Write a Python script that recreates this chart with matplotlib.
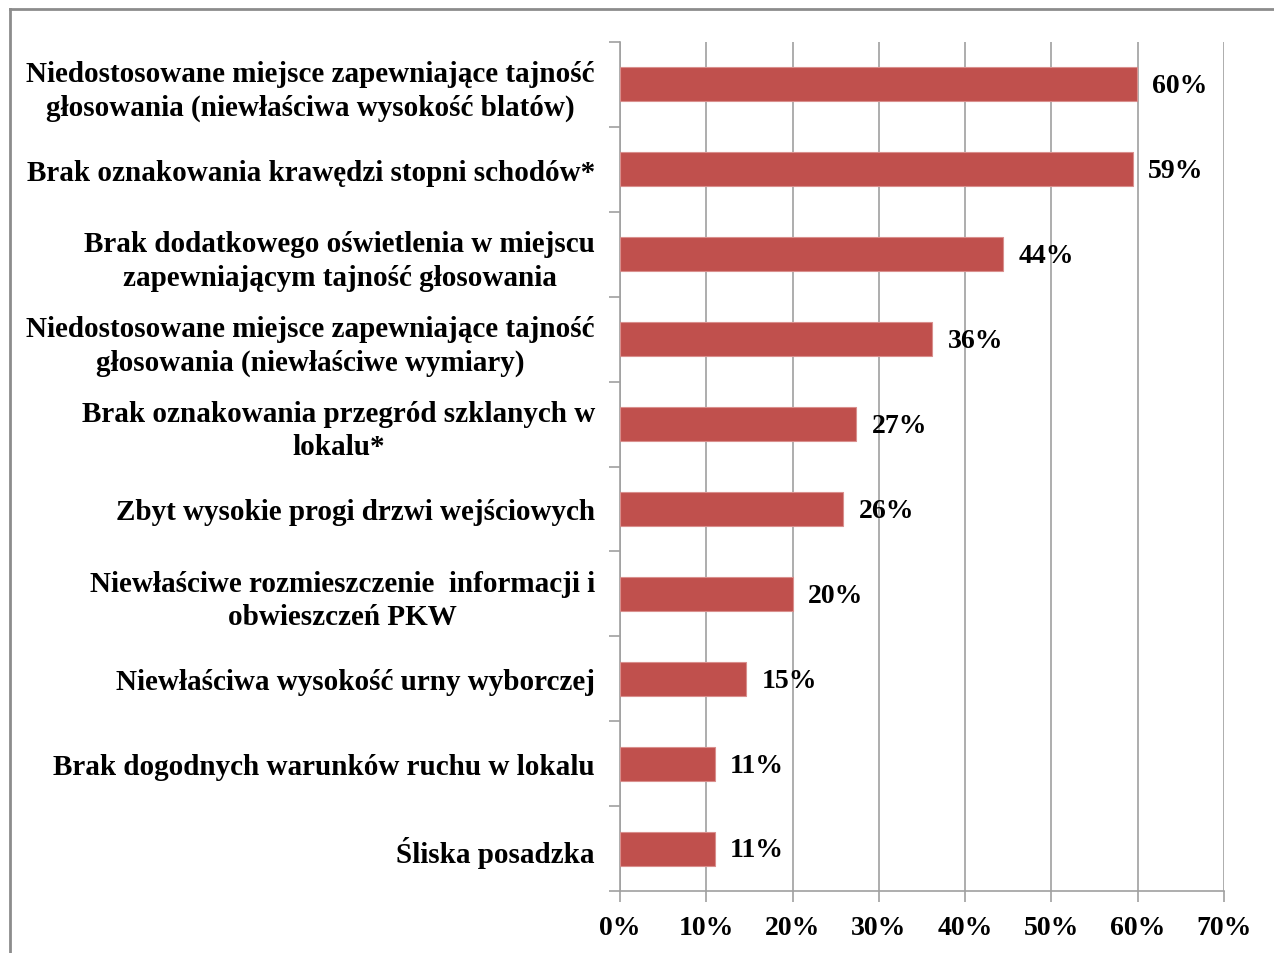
import matplotlib
matplotlib.use("Agg")
import matplotlib.pyplot as plt
from matplotlib.lines import Line2D
from matplotlib.ticker import FuncFormatter, MultipleLocator, FixedLocator

categories = [
    "Niedostosowane miejsce zapewniające tajność\ngłosowania (niewłaściwa wysokość blatów)",
    "Brak oznakowania krawędzi stopni schodów*",
    "Brak dodatkowego oświetlenia w miejscu\nzapewniającym tajność głosowania",
    "Niedostosowane miejsce zapewniające tajność\ngłosowania (niewłaściwe wymiary)",
    "Brak oznakowania przegród szklanych w\nlokalu*",
    "Zbyt wysokie progi drzwi wejściowych",
    "Niewłaściwe rozmieszczenie  informacji i\nobwieszczeń PKW",
    "Niewłaściwa wysokość urny wyborczej",
    "Brak dogodnych warunków ruchu w lokalu",
    "Śliska posadzka",
]
values = [59.9, 59.4, 44.4, 36.2, 27.4, 25.9, 20.0, 14.6, 11.0, 11.0]
value_labels = ["60%", "59%", "44%", "36%", "27%", "26%", "20%", "15%", "11%", "11%"]

plt.rcParams['font.family'] = ['Liberation Serif', 'DejaVu Serif']
plt.rcParams['font.weight'] = 'bold'

fig = plt.figure(figsize=(12.74, 9.54), dpi=100)
ax = fig.add_axes([620/1274, 1-892/954, (1224-620)/1274, (892-43)/954])

n = len(categories)
ypos = list(range(n))[::-1]
ax.barh(ypos, values, height=0.4, color='#C0504D', edgecolor='#D98F8D', linewidth=0.8, zorder=3)

ax.set_xlim(0, 70)
ax.set_ylim(-0.5, n - 0.5)
ax.xaxis.set_major_locator(MultipleLocator(10))
ax.xaxis.set_major_formatter(FuncFormatter(lambda v, p: f"{int(round(v))}%"))
ax.grid(axis='x', color='#A0A0A0', linewidth=1.2, zorder=0)

ax.set_yticks(ypos)
ax.set_yticklabels(categories)
for t in ax.get_yticklabels():
    t.set_multialignment('center')
    t.set_fontsize(21)
    t.set_fontweight('bold')
    t.set_linespacing(1.3)
ax.tick_params(axis='y', length=0, pad=18)
# category boundary ticks
ax.yaxis.set_minor_locator(FixedLocator([i + 0.5 for i in range(-1, n)]))
ax.tick_params(axis='y', which='minor', length=8, color='#A0A0A0', width=1.2)
ax.tick_params(axis='x', length=8, color='#A0A0A0', width=1.2, labelsize=20, pad=9)
for t in ax.get_xticklabels():
    t.set_fontweight('bold')

for s in ['top', 'right']:
    ax.spines[s].set_visible(False)
for s in ['left', 'bottom']:
    ax.spines[s].set_color('#A0A0A0')
    ax.spines[s].set_linewidth(1.2)

for y, v, lab in zip(ypos, values, value_labels):
    ax.annotate(lab, (v, y), xytext=(11, -1), textcoords='offset points',
                va='center', ha='left', fontsize=20, fontweight='bold', zorder=4)

# figure border (left and top visible)
fig.add_artist(Line2D([10/1274, 10/1274], [0, 1-10/954], transform=fig.transFigure, color='#8C8C8C', linewidth=2))
fig.add_artist(Line2D([10/1274, 1], [1-10/954, 1-10/954], transform=fig.transFigure, color='#8C8C8C', linewidth=2))

fig.savefig('out.png', dpi=100)
